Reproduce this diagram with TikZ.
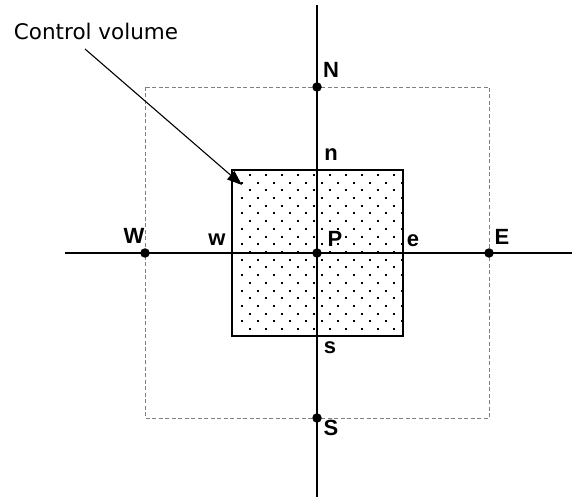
\documentclass[tikz,border=0pt]{standalone}
\usepackage{fontspec}
\setmainfont{Liberation Sans}
\newfontfamily\capfont{DejaVu Sans}
\usetikzlibrary{arrows.meta}
\begin{document}
\begin{tikzpicture}[x=1pt,y=-1pt,
  axis/.style={line width=1.7pt},
  cvbox/.style={line width=1.7pt},
  gridbox/.style={draw=gray,dashed,dash pattern=on 4pt off 2.5pt,line width=0.8pt},
  gridpt/.style={circle,fill=black,inner sep=0pt,minimum size=9.5pt},
  lab/.style={inner sep=0pt,font=\fontsize{22}{24}\selectfont\bfseries},
  captxt/.style={inner sep=0pt,font=\capfont\fontsize{21.5}{24}\selectfont}]
\useasboundingbox (0,0) rectangle (572,502);
% dotted fill of control volume
\begin{scope}
\clip (232,170) rectangle (403,336);
\foreach \r in {0,...,21}{
  \pgfmathsetmacro{\yy}{175+7.7*\r}
  \pgfmathsetmacro{\xo}{mod(\r,2)==0 ? 250 : 242}
  \foreach \c in {0,...,11}{
    \fill (\xo+16*\c-1,\yy-1) rectangle ++(2,2);
  }
}
\end{scope}
% grid cell (dashed)
\draw[gridbox] (145,87) rectangle (489,418);
% control volume
\draw[cvbox] (232,170) rectangle (403,336);
% axes
\coordinate (top) at (317,5);
\coordinate (bot) at (317,497);
\coordinate (left) at (65,253);
\coordinate (right) at (572,253);
\draw[axis] (top) -- (bot);
\draw[axis] (left) -- (right);
% grid points
\node[gridpt] (N) at (317,87) {};
\node[gridpt] (S) at (317,418) {};
\node[gridpt] (W) at (145,253) {};
\node[gridpt] (E) at (489,253) {};
\node[gridpt] (P) at (317,253) {};
% labels
\node[lab] (lN) at (331,70) {N};
\node[lab] (ln) at (331,155) {n};
\node[lab] (lW) at (134,236) {W};
\node[lab] (lw) at (217,240) {w};
\node[lab] (lP) at (335,239) {P};
\node[lab] (le) at (413,241) {e};
\node[lab] (lE) at (502,237) {E};
\node[lab] (ls) at (330,348) {s};
\node[lab] (lS) at (331,428) {S};
% caption and arrow
\node[captxt] (cv) at (96,31) {Control volume};
\coordinate (tail) at (85,49);
\coordinate (tip) at (242,185);
\draw[line width=1.1pt,-{Triangle[length=15pt,width=11pt]}] (tail) -- (tip);
\end{tikzpicture}
\end{document}
